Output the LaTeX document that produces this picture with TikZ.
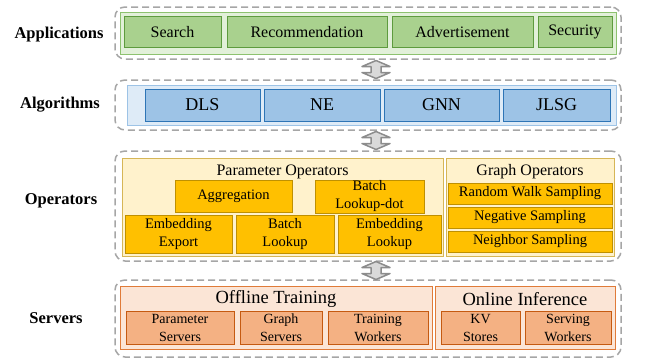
\documentclass[tikz,border=0pt]{standalone}
\usepackage{fontspec}
\setmainfont{Liberation Serif}
\usetikzlibrary{calc}
\definecolor{dashgray}{HTML}{A6A6A6}
\definecolor{arrline}{HTML}{8C8C8C}
\definecolor{arrfill}{HTML}{D9D9D9}
\definecolor{gbox}{HTML}{A9D18E}
\definecolor{gboxd}{HTML}{5E9B3E}
\definecolor{gpan}{HTML}{E2F0D9}
\definecolor{gpand}{HTML}{8DC26F}
\definecolor{bbox}{HTML}{9DC3E6}
\definecolor{bboxd}{HTML}{2E75B6}
\definecolor{bpan}{HTML}{DEEBF7}
\definecolor{bpand}{HTML}{9DC3E6}
\definecolor{ybox}{HTML}{FFC000}
\definecolor{yboxd}{HTML}{BF9000}
\definecolor{ypan}{HTML}{FFF2CC}
\definecolor{ypand}{HTML}{D6B656}
\definecolor{obox}{HTML}{F4B183}
\definecolor{oboxd}{HTML}{C55A11}
\definecolor{opan}{HTML}{FBE5D6}
\definecolor{opand}{HTML}{E07B39}
\begin{document}
\begin{tikzpicture}[x=1pt,y=-1pt,
  group/.style={draw=dashgray, dash pattern=on 7pt off 4pt, line width=1.5pt, rounded corners=10pt, inner sep=0pt},
  lab/.style={font=\fontsize{16.5}{18}\selectfont\bfseries, anchor=center},
  gpanel/.style={draw=gpand, fill=gpan, line width=1pt, inner sep=0pt},
  gb/.style={draw=gboxd, fill=gbox, line width=0.8pt, inner sep=0pt, font=\fontsize{16}{18}\selectfont},
  bpanel/.style={draw=bpand, fill=bpan, line width=1pt, inner sep=0pt},
  bb/.style={draw=bboxd, fill=bbox, line width=0.8pt, inner sep=0pt, font=\fontsize{18}{20}\selectfont},
  ypanel/.style={draw=ypand, fill=ypan, line width=1pt, inner sep=0pt},
  yb/.style={draw=yboxd, fill=ybox, line width=0.8pt, inner sep=0pt, align=center, font=\fontsize{14.5}{18}\selectfont},
  opanel/.style={draw=opand, fill=opan, line width=1pt, inner sep=0pt},
  ob/.style={draw=oboxd, fill=obox, line width=0.8pt, inner sep=0pt, align=center, font=\fontsize{14}{18}\selectfont},
  ttl/.style={inner sep=0pt, font=\fontsize{16}{18}\selectfont},
  bigttl/.style={inner sep=0pt, font=\fontsize{18.5}{20}\selectfont},
  dblarrow/.pic={\draw[draw=arrline, fill=arrfill, line width=1.5pt, line join=round]
     (0,-9) -- (14,-3) -- (5,-3) -- (5,3) -- (14,3) -- (0,9) -- (-14,3) -- (-5,3) -- (-5,-3) -- (-14,-3) -- cycle;}
]
\useasboundingbox (0,0) rectangle (648,360);

% left labels
\node[lab] (lapp) at (59,35) {Applications};
\node[lab] (lalg) at (60,105) {Algorithms};
\node[lab] (lops) at (61,201) {Operators};
\node[lab] (lsrv) at (56,318) {Servers};

% groups
\node[group, minimum width=506pt, minimum height=52pt] (appg) at (368,33) {};
\node[group, minimum width=506pt, minimum height=50pt] (algg) at (368,105) {};
\node[group, minimum width=506pt, minimum height=110pt] (opsg) at (368,206) {};
\node[group, minimum width=506pt, minimum height=77pt] (srvg) at (368,318.5) {};

% arrows between groups
\coordinate (a1) at ($(appg.south)!0.5!(algg.north)+(8,0)$);
\coordinate (a2) at ($(algg.south)!0.5!(opsg.north)+(8,0)$);
\coordinate (a3) at ($(opsg.south)!0.5!(srvg.north)+(8,0)$);
\pic at (a1) {dblarrow};
\pic at (a2) {dblarrow};
\pic at (a3) {dblarrow};

% Applications
\node[gpanel, minimum width=496pt, minimum height=42pt] (apppan) at (368,33) {};
\node[gb, minimum width=97pt, minimum height=31pt] (search) at (172.5,32) {Search};
\node[gb, minimum width=160pt, minimum height=31pt] (recom) at (307,32) {Recommendation};
\node[gb, minimum width=141pt, minimum height=31pt] (adv) at (462.5,32) {Advertisement};
\node[gb, minimum width=74pt, minimum height=31pt] (sec) at (575,32) {Security};

% Algorithms
\node[bpanel, minimum width=489pt, minimum height=40pt] (algpan) at (371.5,105) {};
\node[bb, minimum width=115pt, minimum height=32pt] (dls) at (202.5,105) {DLS};
\node[bb, minimum width=116pt, minimum height=32pt] (ne) at (322,105) {NE};
\node[bb, minimum width=115pt, minimum height=32pt] (gnn) at (441.5,105) {GNN};
\node[bb, minimum width=107pt, minimum height=32pt] (jlsg) at (556.5,105) {JLSG};

% Operators
\node[ypanel, minimum width=321pt, minimum height=98pt] (parpan) at (282.5,207.5) {};
\node[ypanel, minimum width=168pt, minimum height=98pt] (grpan) at (530,207.5) {};
\node[ttl] (partitle) at (282.5,172) {Parameter Operators};
\node[ttl] (grtitle) at (530,172) {Graph Operators};
\node[yb, minimum width=117pt, minimum height=32pt] (aggr) at (233.5,196) {Aggregation};
\node[yb, minimum width=109pt, minimum height=33pt] (bld) at (369.5,196.5) {Batch\\Lookup-dot};
\node[yb, minimum width=107pt, minimum height=38pt] (eex) at (178.5,234) {Embedding\\Export};
\node[yb, minimum width=98pt, minimum height=38pt] (blk) at (285,234) {Batch\\Lookup};
\node[yb, minimum width=103pt, minimum height=38pt] (elk) at (389.5,234) {Embedding\\Lookup};
\node[yb, minimum width=164pt, minimum height=21pt] (rws) at (530,193.5) {Random Walk Sampling};
\node[yb, minimum width=164pt, minimum height=21pt] (negs) at (530,217.5) {Negative Sampling};
\node[yb, minimum width=164pt, minimum height=21pt] (neis) at (530,241.5) {Neighbor Sampling};

% Servers
\node[opanel, minimum width=312pt, minimum height=63pt] (offpan) at (276,318) {};
\node[opanel, minimum width=180pt, minimum height=63pt] (onpan) at (525,318) {};
\node[bigttl] (offtitle) at (276,299) {Offline Training};
\node[bigttl] (ontitle) at (525,299) {Online Inference};
\node[ob, minimum width=108pt, minimum height=33pt] (ps) at (180,328) {Parameter\\Servers};
\node[ob, minimum width=82pt, minimum height=33pt] (gs) at (281,328) {Graph\\Servers};
\node[ob, minimum width=100pt, minimum height=33pt] (tw) at (378,328) {Training\\Workers};
\node[ob, minimum width=79pt, minimum height=33pt] (kv) at (480.5,328) {KV\\Stores};
\node[ob, minimum width=86pt, minimum height=33pt] (sw) at (568,328) {Serving\\Workers};
\end{tikzpicture}
\end{document}
